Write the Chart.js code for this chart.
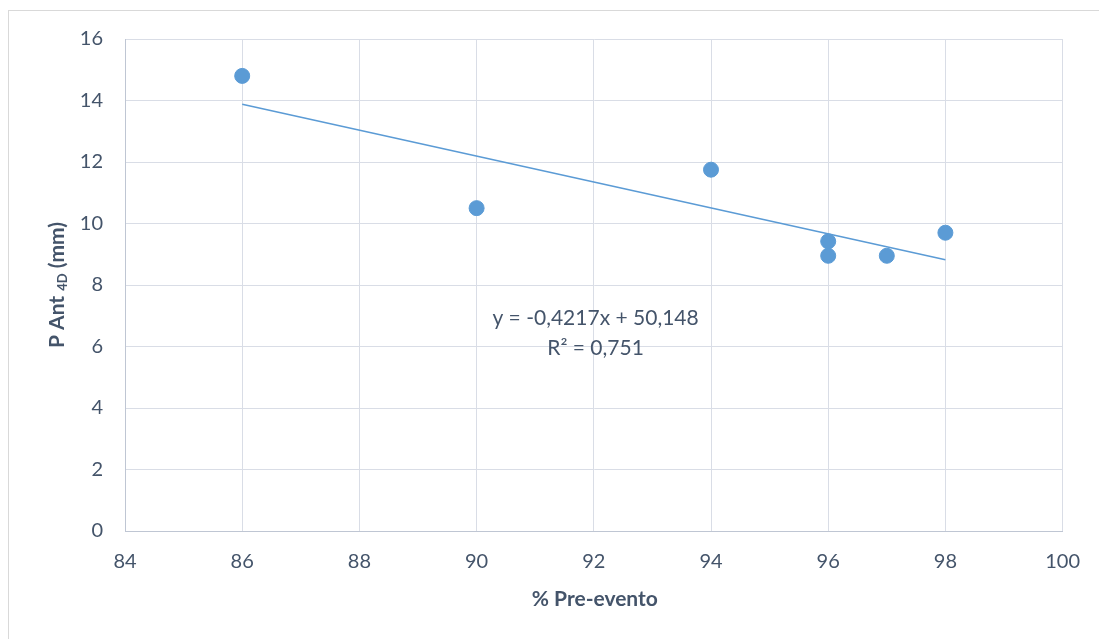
<!DOCTYPE html>
<html><head><meta charset="utf-8">
<script src="https://cdn.jsdelivr.net/npm/chart.js@4"></script>
<style>html,body{margin:0;padding:0;background:#fff;}#wrap{width:1099px;height:639px;position:relative;}</style>
</head><body><div id="wrap"><canvas id="c" width="1099" height="639"></canvas></div>
<script>
const xValues = [86, 90, 94, 96, 96, 97, 98];
const yValues = [14.8, 10.5, 11.75, 9.42, 8.95, 8.95, 9.7];
const trendX = [86, 98];
const trendY = [13.88, 8.82];
const xTicks = [84, 86, 88, 90, 92, 94, 96, 98, 100];
const yTicks = [0, 2, 4, 6, 8, 10, 12, 14, 16];
const equationLines = ["y = -0,4217x + 50,148", "R² = 0,751"];
const xTitle = "% Pre-evento";

const textColor = '#44546a';
const FONT = 'Lato, "Open Sans", sans-serif';

const overlay = {
  id: 'overlay',
  beforeDraw(chart) {
    const ctx = chart.ctx;
    ctx.save();
    ctx.strokeStyle = '#d9d9d9';
    ctx.lineWidth = 1;
    ctx.strokeRect(8.5, 10.5, 1200, 700);
    ctx.restore();
  },
  afterDraw(chart) {
    const ctx = chart.ctx;
    const xs = chart.scales.x, ys = chart.scales.y;
    ctx.save();
    ctx.fillStyle = textColor;
    // x title
    ctx.font = 'bold 21px ' + FONT;
    ctx.textAlign = 'center';
    ctx.textBaseline = 'alphabetic';
    ctx.fillText(xTitle, (chart.chartArea.left + chart.chartArea.right) / 2 + 1, 606);
    // y title with subscript
    ctx.translate(57, 285);
    ctx.rotate(-Math.PI / 2);
    const p1 = 'P Ant ', sub = '4D', p2 = ' (mm)';
    ctx.font = 'bold 21px ' + FONT;
    const w1 = ctx.measureText(p1).width, w3 = ctx.measureText(p2).width;
    ctx.font = 'bold 13px ' + FONT;
    const w2 = ctx.measureText(sub).width;
    let start = -(w1 + w2 + w3) / 2;
    ctx.textAlign = 'left';
    ctx.font = 'bold 21px ' + FONT;
    ctx.fillText(p1, start, 7);
    ctx.font = 'bold 13px ' + FONT;
    ctx.fillText(sub, start + w1, 10);
    ctx.font = 'bold 21px ' + FONT;
    ctx.fillText(p2, start + w1 + w2, 7);
    ctx.restore();
    // equation
    ctx.save();
    ctx.fillStyle = textColor;
    ctx.font = '21px ' + FONT;
    ctx.textAlign = 'center';
    ctx.textBaseline = 'middle';
    ctx.fillText(equationLines[0], xs.getPixelForValue(92.03), ys.getPixelForValue(6.93));
    ctx.fillText(equationLines[1], xs.getPixelForValue(92.03), ys.getPixelForValue(5.93));
    ctx.restore();
  }
};

new Chart(document.getElementById('c'), {
  type: 'scatter',
  data: {
    datasets: [
      {
        label: 'trend',
        type: 'line',
        data: trendX.map((x, i) => ({x, y: trendY[i]})),
        borderColor: '#5b9bd5',
        borderWidth: 1.5,
        pointRadius: 0,
        fill: false,
        order: 2
      },
      {
        label: 'data',
        data: xValues.map((x, i) => ({x, y: yValues[i]})),
        backgroundColor: '#5b9bd5',
        borderColor: '#5b9bd5',
        pointRadius: 7.5,
        pointHoverRadius: 7.5,
        order: 1
      }
    ]
  },
  options: {
    responsive: false,
    animation: false,
    events: [],
    layout: { padding: { left: 0, top: 39, right: 34, bottom: 0 } },
    plugins: { legend: { display: false }, tooltip: { enabled: false } },
    scales: {
      x: {
        type: 'linear', min: 84, max: 100,
        afterBuildTicks(s) { s.ticks = xTicks.map(v => ({value: v})); },
        afterFit(s) { s.height = 108; },
        grid: { color: '#d9dde6', lineWidth: 1, drawTicks: false },
        border: { color: '#bfc6d3', width: 1 },
        ticks: { color: textColor, font: { family: FONT, size: 20 }, padding: 19 }
      },
      y: {
        type: 'linear', min: 0, max: 16,
        afterBuildTicks(s) { s.ticks = yTicks.map(v => ({value: v})); },
        afterFit(s) { s.width = 125; },
        grid: { color: '#d9dde6', lineWidth: 1, drawTicks: false },
        border: { color: '#bfc6d3', width: 1 },
        ticks: { color: textColor, font: { family: FONT, size: 20 }, padding: 22 }
      }
    }
  },
  plugins: [overlay]
});
</script></body></html>
